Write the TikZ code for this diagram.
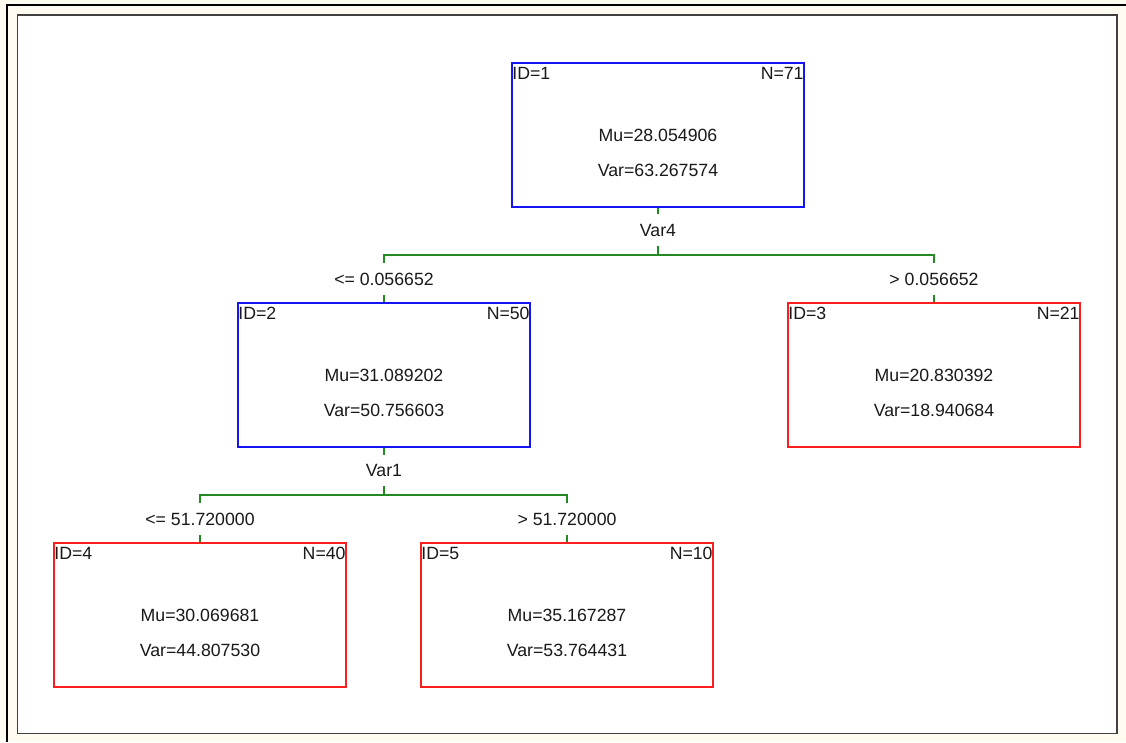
\documentclass[tikz,border=0pt]{standalone}
\usepackage{fontspec}
\setmainfont{Liberation Sans}
\usetikzlibrary{positioning}

\definecolor{paper}{RGB}{255,251,240}
\definecolor{framegray}{RGB}{64,64,64}
\definecolor{splitgreen}{RGB}{34,139,34}
\definecolor{innerblue}{RGB}{20,20,245}
\definecolor{leafred}{RGB}{250,30,30}

% one tree node: name, x, y, colour, id, n, mu, var
\newcommand{\treenode}[8]{%
  \node[box, draw=#4] (#1) at (#2,#3) {};
  \node[stat, anchor=base west] (#1id) at ([xshift=1pt,yshift=-17pt]#1.north west) {ID=#5};
  \node[stat, anchor=base east] (#1n) at ([xshift=-1pt,yshift=-17pt]#1.north east) {N=#6};
  \node[stat, anchor=base] (#1mu) at ([yshift=-79pt]#1.north) {Mu=#7};
  \node[stat, anchor=base] (#1var) at ([yshift=-114pt]#1.north) {Var=#8};
}

\begin{document}
\begin{tikzpicture}[
  x=1pt, y=-1pt,
  every node/.style={font=\fontsize{17.7}{20}\selectfont, text=black!90},
  box/.style={rectangle, line width=1.5pt, minimum width=292pt, minimum height=144pt, inner sep=0pt},
  stat/.style={inner sep=0pt},
  cut/.style={inner sep=0pt, minimum height=31pt},
  branch/.style={splitgreen, line width=1.5pt}
]
\useasboundingbox (0,0) rectangle (1126,742);
\fill[paper] (0,0) rectangle (1126,742);
\draw[line width=2.5pt] (7,742) -- (7,5) -- (1126,5);
\draw[framegray, line width=1.5pt, fill=white] (17.5,15) rectangle (1117,733.5);

% nodes
\treenode{n1}{658}{135}{innerblue}{1}{71}{28.054906}{63.267574}
\treenode{n2}{384}{375}{innerblue}{2}{50}{31.089202}{50.756603}
\treenode{n3}{934}{375}{leafred}{3}{21}{20.830392}{18.940684}
\treenode{n4}{200}{615}{leafred}{4}{40}{30.069681}{44.807530}
\treenode{n5}{567}{615}{leafred}{5}{10}{35.167287}{53.764431}

% split variables and thresholds
\node[cut] (var4) at (658,230) {Var4};
\node[cut] (le4) at (384,279) {<= 0.056652};
\node[cut] (gt4) at (934,279) {> 0.056652};
\node[cut] (var1) at (384,470.5) {Var1};
\node[cut] (le1) at (200,519) {<= 51.720000};
\node[cut] (gt1) at (567,519) {> 51.720000};

\coordinate (bar4) at (658,255);
\coordinate (bar1) at (384,495);

% connectors
\draw[branch] (n1.south) -- (var4.north);
\draw[branch] (var4.south) -- (bar4);
\draw[branch] (le4.north) -- (le4.north |- bar4) -- (gt4.north |- bar4) -- (gt4.north);
\draw[branch] (le4.south) -- (n2.north);
\draw[branch] (gt4.south) -- (n3.north);

\draw[branch] (n2.south) -- (var1.north);
\draw[branch] (var1.south) -- (bar1);
\draw[branch] (le1.north) -- (le1.north |- bar1) -- (gt1.north |- bar1) -- (gt1.north);
\draw[branch] (le1.south) -- (n4.north);
\draw[branch] (gt1.south) -- (n5.north);
\end{tikzpicture}
\end{document}
